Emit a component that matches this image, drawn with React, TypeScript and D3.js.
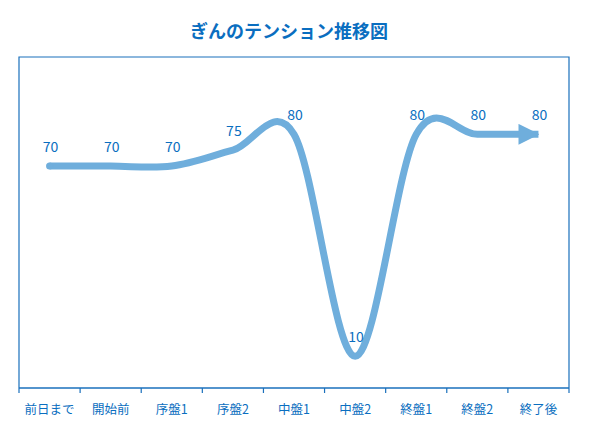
import React from "react";
import * as d3 from "d3";

// ── Data ──────────────────────────────────────────────────────────────────────

const CATEGORIES = ["前日まで", "開始前", "序盤1", "序盤2", "中盤1", "中盤2", "終盤1", "終盤2", "終了後"];
const TENSION = [70, 70, 70, 75, 80, 10, 80, 80, 80];
const TITLE = "ぎんのテンション推移図";

// ── Style ─────────────────────────────────────────────────────────────────────

const W = 594;
const H = 431;
const TEXT_BLUE = "#0A6EC0";
const FRAME_BLUE = "#1A70BC";
const LINE_BLUE = "#6FAEDC";
const FONT = "'Noto Sans CJK JP', 'Noto Sans', sans-serif";

const plot = { left: 19, right: 569, top: 57, bottom: 388 };

export default function App() {
  const x = d3
    .scaleBand<string>()
    .domain(CATEGORIES)
    .range([plot.left, plot.right])
    .padding(0);

  const y = d3.scaleLinear().domain([0, 104.4]).range([plot.bottom, plot.top]);

  const cx = (i: number) => (x(CATEGORIES[i]) ?? 0) + x.bandwidth() / 2;

  const line = d3
    .line<number>()
    .x((d, i) => cx(i))
    .y((d) => y(d))
    .curve(d3.curveCardinal.tension(0));

  // tick marks at category boundaries
  const boundaries = CATEGORIES.map((c) => x(c) ?? 0).concat([plot.right]);

  return (
    <svg
      width={W}
      height={H}
      style={{ position: "absolute", left: 0, top: 0, background: "#fff" }}
      fontFamily={FONT}
    >
      <defs>
        <marker
          id="arrow"
          viewBox="0 0 10 10"
          refX="9.5"
          refY="5"
          markerWidth="3"
          markerHeight="3"
          orient="auto"
          markerUnits="strokeWidth"
        >
          <path d="M0,0 L10,5 L0,10 Z" fill={LINE_BLUE} />
        </marker>
      </defs>

      <text
        x={W / 2 - 8}
        y={38}
        textAnchor="middle"
        fontSize={18}
        fontWeight="bold"
        fill={TEXT_BLUE}
      >
        {TITLE}
      </text>

      {/* plot frame: left, top, right */}
      <path
        d={`M${plot.left},${plot.bottom} V${plot.top} H${plot.right} V${plot.bottom}`}
        fill="none"
        stroke={FRAME_BLUE}
        strokeWidth={1.2}
      />

      {/* category axis */}
      <line x1={plot.left} x2={plot.right} y1={plot.bottom} y2={plot.bottom} stroke={FRAME_BLUE} strokeWidth={1.3} />
      {boundaries.map((bx, i) => (
        <line key={i} x1={bx} x2={bx} y1={plot.bottom} y2={plot.bottom + 5} stroke={FRAME_BLUE} strokeWidth={1.2} />
      ))}
      {CATEGORIES.map((c, i) => (
        <text key={c} x={cx(i)} y={plot.bottom + 26} textAnchor="middle" fontSize={12.5} fill={TEXT_BLUE}>
          {c}
        </text>
      ))}

      {/* smoothed line with end arrow (butt cap so the arrow tip ends the line) */}
      <path
        d={line(TENSION) ?? ""}
        fill="none"
        stroke={LINE_BLUE}
        strokeWidth={7}
        strokeLinecap="butt"
        strokeLinejoin="round"
        markerEnd="url(#arrow)"
      />
      <circle cx={cx(0)} cy={y(TENSION[0])} r={3.5} fill={LINE_BLUE} />

      {/* data labels */}
      {TENSION.map((v, i) => (
        <text key={i} x={cx(i) + 1} y={y(v) - 14} textAnchor="middle" fontSize={14} fill={TEXT_BLUE}>
          {v}
        </text>
      ))}
    </svg>
  );
}
